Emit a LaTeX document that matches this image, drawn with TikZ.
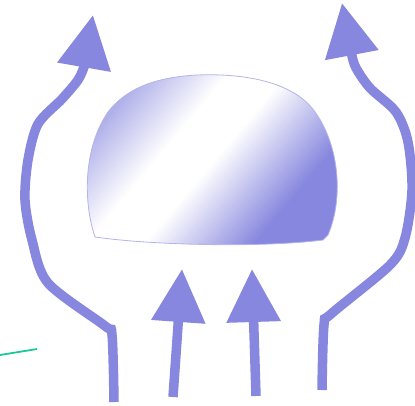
\documentclass[tikz,border=0pt]{standalone}
\usetikzlibrary{arrows.meta}
\definecolor{flowblue}{HTML}{8787DF}
\definecolor{blobedge}{HTML}{B4B4EC}
\definecolor{trailgreen}{HTML}{1CC89A}
\pgfdeclareverticalshading{blobshade}{100bp}{color(0bp)=(flowblue); color(31bp)=(flowblue); color(50bp)=(white); color(60bp)=(white); color(78bp)=(flowblue!80); color(100bp)=(flowblue!80)}
\tikzset{
  flow/.style={flowblue, line width=9.5pt, -{Triangle[length=53pt,width=52pt]}},
}
\begin{document}
\begin{tikzpicture}[x=1pt,y=-1pt]
            \useasboundingbox (0,0) rectangle (415,405);
            % Obstacle
            \draw[blobedge, line width=0.8pt, shading=blobshade, shading angle=50]
                (95,237) .. controls (84,205) and (82,150) .. (108,112)
                .. controls (128,86) and (160,77) .. (197,75)
                .. controls (250,73) and (292,84) .. (312,108)
                .. controls (338,140) and (345,195) .. (328,235)
                -- (323,240) .. controls (260,248) and (150,245) .. (95,237) -- cycle;

            % Flow around the obstacle
            \draw[flow] plot[smooth, tension=0.5] coordinates {(114,402) (112,335) (105,326) (48,283) (32,240) (25,200) (28,160) (38,124) (62,99) (78,80) (84,67)} -- (93,15);
            \draw[flow] plot[smooth, tension=0.5] coordinates {(322,390) (324,325) (331,314) (390,265) (405,238) (412,190) (408,142) (396,112) (370,88) (356,68) (352,56)} -- (342,3);

            % Flow under the obstacle
            \draw[flow] (173,397) -- (182,269);
            \draw[flow] (256,396) -- (252,269);

            \draw[trailgreen, line width=1.8pt] (0,355) -- (37,349);
        \end{tikzpicture}
\end{document}
